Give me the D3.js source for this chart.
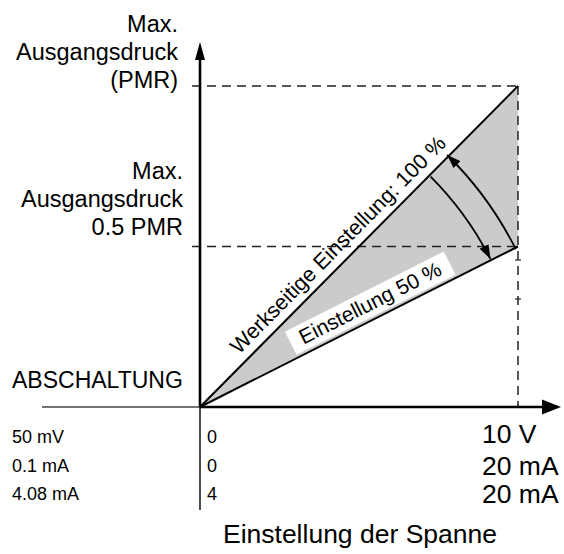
<!DOCTYPE html>
<html>
<head>
<meta charset="utf-8">
<script src="https://cdn.jsdelivr.net/npm/d3@7/dist/d3.min.js"></script>
<style>
  html, body { margin: 0; padding: 0; background: #fff; }
  svg { display: block; font-family: "Liberation Sans", Arial, Helvetica, sans-serif; }
</style>
</head>
<body>
<svg id="chart" width="564" height="554"></svg>
<script>
// signal span (x) and output pressure in PMR (y)
const spanDomain = [0, 10];
const pmrDomain = [0, 1];

// setting lines: end pressure at full span, as share of PMR
const settings = [
  { key: 'factory', pmr: 1.0, label: 'Werkseitige Einstellung: 100 %' },
  { key: 'half', pmr: 0.5, label: 'Einstellung 50 %' }
];

// reference levels drawn as dashed lines
const levels = [1.0, 0.5];

const topLabel = ['Max.', 'Ausgangsdruck', '(PMR)'];
const midLabel = ['Max.', 'Ausgangsdruck', '0.5 PMR'];
const cutoffLabel = 'ABSCHALTUNG';

// signal table under the x axis
const cutoffSignals = ['50 mV', '0.1 mA', '4.08 mA'];
const zeroSignals = ['0', '0', '4'];
const fullSignals = ['10 V', '20 mA', '20 mA'];
const xTitle = 'Einstellung der Spanne';

const svg = d3.select('#chart');

const x = d3.scaleLinear().domain(spanDomain).range([200, 518]);
const y = d3.scaleLinear().domain(pmrDomain).range([407, 86]);

const x0 = x(0), y0 = y(0);
const defs = svg.append('defs');

defs.append('marker')
  .attr('id', 'arc-head')
  .attr('viewBox', '0 -6 14 12')
  .attr('refX', 14).attr('refY', 0)
  .attr('markerUnits', 'userSpaceOnUse')
  .attr('markerWidth', 14).attr('markerHeight', 12)
  .attr('orient', 'auto')
  .append('path').attr('d', 'M0,-5L14,0L0,5Z').attr('fill', '#000');

// shaded band between the two settings
const band = [[0, 0], [spanDomain[1], settings[0].pmr], [spanDomain[1], settings[1].pmr]];
svg.append('path')
  .attr('d', d3.line().x(d => x(d[0])).y(d => y(d[1]))(band) + 'Z')
  .attr('fill', '#cbcbcb');

// dashed guides
const dash = svg.append('g').attr('stroke', '#222').attr('stroke-width', 1.5)
  .attr('stroke-dasharray', '9 6').attr('fill', 'none');
levels.forEach(v => {
  dash.append('line')
    .attr('x1', x0 - 8).attr('x2', x(spanDomain[1]))
    .attr('y1', y(v)).attr('y2', y(v));
});
dash.append('line')
  .attr('x1', x(spanDomain[1])).attr('x2', x(spanDomain[1]))
  .attr('y1', y(levels[0])).attr('y2', y0);

// little marks on the vertical guide
svg.append('g').attr('stroke', '#222').attr('stroke-width', 1.2)
  .selectAll('line').data([260, 299]).join('line')
  .attr('x1', x(spanDomain[1]) - 3).attr('x2', x(spanDomain[1]) + 3)
  .attr('y1', d => d).attr('y2', d => d);

// setting lines
const lineGen = d3.line().x(d => x(d[0])).y(d => y(d[1]));
svg.append('g').selectAll('path').data(settings).join('path')
  .attr('d', d => lineGen([[0, 0], [spanDomain[1], d.pmr]]))
  .attr('stroke', '#000').attr('stroke-width', 2).attr('fill', 'none');

// geometry of each line in pixels
const geo = settings.map(s => {
  const dx = x(spanDomain[1]) - x0, dy = y(s.pmr) - y0;
  const len = Math.hypot(dx, dy);
  return { ang: Math.atan2(dy, dx), len, ux: dx / len, uy: dy / len };
});

// adjustment arcs
const innerArc = d3.path();
innerArc.arc(x0, y0, 326, geo[0].ang + 0.005, geo[1].ang - 0.004, false);
svg.append('path').attr('d', innerArc.toString())
  .attr('fill', 'none').attr('stroke', '#000').attr('stroke-width', 1.8)
  .attr('marker-end', 'url(#arc-head)');

const outerArc = d3.path();
outerArc.arc(x0, y0, 353, geo[1].ang + 0.004, geo[0].ang - 0.005, true);
svg.append('path').attr('d', outerArc.toString())
  .attr('fill', 'none').attr('stroke', '#000').attr('stroke-width', 1.8)
  .attr('marker-end', 'url(#arc-head)');

// label on the factory line
{
  const g0 = geo[0], t = g0.len * 0.47;
  svg.append('text')
    .attr('transform', `translate(${x0 + g0.ux * t},${y0 + g0.uy * t}) rotate(${g0.ang * 180 / Math.PI})`)
    .attr('y', -9)
    .attr('text-anchor', 'middle')
    .attr('font-size', 21.5)
    .attr('fill', '#000')
    .text(settings[0].label);
}

// boxed label on the 50 % line
{
  const g1 = geo[1], t = g1.len * 0.558;
  const lab = svg.append('g')
    .attr('transform', `translate(${x0 + g1.ux * t},${y0 + g1.uy * t}) rotate(${g1.ang * 180 / Math.PI})`);
  lab.append('rect')
    .attr('x', -89).attr('y', -29).attr('width', 178).attr('height', 26)
    .attr('fill', '#fff');
  lab.append('text')
    .attr('y', -9)
    .attr('text-anchor', 'middle')
    .attr('font-size', 21)
    .text(settings[1].label);
}

// axes
svg.append('line')
  .attr('x1', 42).attr('x2', x0).attr('y1', y0).attr('y2', y0)
  .attr('stroke', '#444').attr('stroke-width', 1.6);
svg.append('line')
  .attr('x1', x0).attr('x2', 544).attr('y1', y0).attr('y2', y0)
  .attr('stroke', '#000').attr('stroke-width', 2.6);
svg.append('path').attr('d', `M542,${y0 - 7.5}L561,${y0}L542,${y0 + 7.5}Z`).attr('fill', '#000');

svg.append('line')
  .attr('x1', x0).attr('x2', x0).attr('y1', 58).attr('y2', y0)
  .attr('stroke', '#000').attr('stroke-width', 2.6);
svg.append('line')
  .attr('x1', x0).attr('x2', x0).attr('y1', y0).attr('y2', 510)
  .attr('stroke', '#000').attr('stroke-width', 1.4);
svg.append('path').attr('d', `M${x0 - 5},60L${x0},42L${x0 + 5},60Z`).attr('fill', '#000');

// y labels
function stack(lines, right, lastBaseline) {
  svg.append('g').selectAll('text').data(lines).join('text')
    .attr('x', right)
    .attr('y', (d, i) => lastBaseline - (lines.length - 1 - i) * 28)
    .attr('text-anchor', 'end')
    .attr('font-size', 23.5)
    .text(d => d);
}
stack(topLabel, 178, y(levels[0]) + 2);
stack(midLabel, 183, y(levels[1]) - 12);

svg.append('text')
  .attr('x', 12).attr('y', 388)
  .attr('font-size', 23)
  .text(cutoffLabel);

// signal table
const rowY = [443, 472, 500];
svg.append('g').selectAll('text').data(cutoffSignals).join('text')
  .attr('x', 12).attr('y', (d, i) => rowY[i])
  .attr('font-size', 18)
  .text(d => d);
svg.append('g').selectAll('text').data(zeroSignals).join('text')
  .attr('x', 207).attr('y', (d, i) => rowY[i])
  .attr('font-size', 18)
  .text(d => d);
const fullY = [443, 475, 503];
svg.append('g').selectAll('text').data(fullSignals).join('text')
  .attr('x', 482).attr('y', (d, i) => fullY[i])
  .attr('font-size', 26.5)
  .text(d => d);

svg.append('text')
  .attr('x', 360).attr('y', 543)
  .attr('text-anchor', 'middle')
  .attr('font-size', 26.5)
  .text(xTitle);
</script>
</body>
</html>
